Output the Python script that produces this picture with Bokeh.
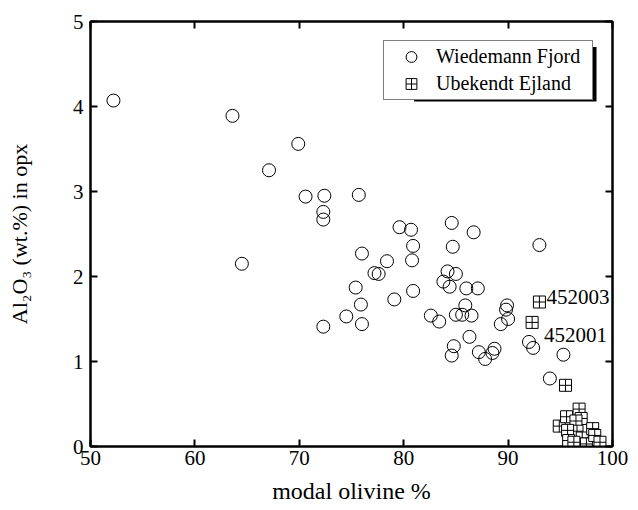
from bokeh.plotting import figure
from bokeh.models import Range1d, FixedTicker, LinearAxis, Legend, LegendItem, BoxAnnotation
from bokeh.embed import file_html
from bokeh.resources import INLINE
from bokeh.core.properties import value

# Wiedemann Fjord (circles)
wf_olivine = [52.2, 63.6, 69.9, 67.1, 70.6, 72.4, 75.7, 72.3, 72.3, 64.5,
              79.6, 80.7, 84.6, 86.7, 93.0, 80.9, 84.7, 76.0, 78.4, 80.8,
              77.2, 77.6, 84.2, 85.0, 83.8, 84.4, 86.0, 87.1, 75.4, 80.9,
              79.1, 75.9, 85.9, 89.9, 89.8, 74.5, 82.6, 85.0, 85.6, 86.5,
              83.4, 90.0, 89.3, 76.0, 72.3, 86.3, 92.0, 92.4, 84.8, 84.6,
              87.2, 87.8, 88.7, 88.5, 95.3, 94.0]
wf_al2o3 = [4.07, 3.89, 3.56, 3.25, 2.94, 2.95, 2.96, 2.76, 2.67, 2.15,
            2.58, 2.55, 2.63, 2.52, 2.37, 2.36, 2.35, 2.27, 2.18, 2.19,
            2.04, 2.03, 2.06, 2.03, 1.94, 1.88, 1.86, 1.86, 1.87, 1.83,
            1.73, 1.67, 1.66, 1.66, 1.61, 1.53, 1.54, 1.55, 1.55, 1.54,
            1.47, 1.50, 1.44, 1.44, 1.41, 1.29, 1.23, 1.16, 1.18, 1.07,
            1.11, 1.03, 1.15, 1.10, 1.08, 0.80]

# Ubekendt Ejland (crossed squares)
ue_olivine = [93.0, 92.3, 95.5, 94.9, 95.6, 96.8, 97.0, 96.5, 96.6, 95.7,
              95.8, 97.1, 97.5, 98.1, 98.3, 98.8, 96.3]
ue_al2o3 = [1.70, 1.46, 0.72, 0.24, 0.35, 0.44, 0.33, 0.30, 0.18, 0.19,
            0.07, 0.10, 0.03, 0.21, 0.13, 0.05, 0.05]

# labelled samples
label_text = ["452003", "452001"]
label_olivine = [93.0, 92.3]
label_al2o3 = [1.70, 1.46]

x_ticks = [50, 60, 70, 80, 90, 100]
y_ticks = [0, 1, 2, 3, 4, 5]

FONT = "Liberation Serif"

p = figure(width=638, height=510, output_backend="svg", toolbar_location=None,
           x_range=Range1d(50, 100), y_range=Range1d(0, 5),
           min_border_left=90, min_border_right=26, min_border_top=21, min_border_bottom=64)
p.grid.visible = False
p.outline_line_color = "black"
p.outline_line_width = 2
p.background_fill_color = "white"
p.border_fill_color = "white"

def style_axis(ax, ticks, show_labels):
    ax.ticker = FixedTicker(ticks=ticks)
    ax.axis_line_width = 2
    ax.axis_line_color = "black"
    ax.major_tick_line_width = 2
    ax.major_tick_line_color = "black"
    ax.major_tick_in = 7
    ax.major_tick_out = 0
    ax.minor_tick_in = 0
    ax.minor_tick_out = 0
    ax.major_label_text_font = FONT
    if show_labels:
        ax.major_label_text_color = "black"
        ax.major_label_text_font_size = "21px"
    else:
        ax.major_label_text_color = None
        ax.major_label_text_font_size = "1px"
        ax.major_label_standoff = 0
    ax.axis_label_text_font = FONT
    ax.axis_label_text_font_style = "normal"
    ax.axis_label_text_color = "black"

xa = p.xaxis[0]
ya = p.yaxis[0]
style_axis(xa, x_ticks, True)
style_axis(ya, y_ticks, True)
xa.axis_label = "modal olivine %"
ya.axis_label = "Al\u2082O\u2083 (wt.%) in opx"
xa.axis_label_text_font_size = "24px"
ya.axis_label_text_font_size = "22px"
xa.major_label_standoff = 4
ya.major_label_standoff = 7
xa.axis_label_standoff = 10
ya.axis_label_standoff = 38

top = LinearAxis()
style_axis(top, x_ticks, False)
p.add_layout(top, "above")
right = LinearAxis()
style_axis(right, y_ticks, False)
p.add_layout(right, "right")

r1 = p.scatter(wf_olivine, wf_al2o3, marker="circle", size=13,
               line_color="black", line_width=1, fill_color=None)
r2 = p.scatter(ue_olivine, ue_al2o3, marker="square_cross", size=12,
               line_color="black", line_width=1, fill_color="white")

p.text(x=label_olivine, y=label_al2o3, text=label_text,
       x_offset=[7, 12], y_offset=[-5.5, 12.4],
       text_font=value(FONT), text_font_size="21px", text_color="black",
       text_align="left", text_baseline="alphabetic")

# legend shadow (sits behind the legend box, offset 3px right / down)
shadow = BoxAnnotation(left=81.0, right=98.47, top=4.70, bottom=4.059,
                       fill_color="black", fill_alpha=1, line_color=None)
p.add_layout(shadow)

legend = Legend(items=[LegendItem(label="Wiedemann Fjord", renderers=[r1]),
                       LegendItem(label="Ubekendt Ejland", renderers=[r2])],
                location="top_right", margin=19, padding=2, spacing=0,
                glyph_width=50, glyph_height=27, label_height=27, label_standoff=0,
                label_width=154,
                label_text_font=FONT, label_text_font_size="20px", label_text_color="black",
                border_line_color="black", border_line_width=1.5,
                background_fill_color="white", background_fill_alpha=1)
p.add_layout(legend)

open("out.html", "w").write(file_html(p, INLINE))
